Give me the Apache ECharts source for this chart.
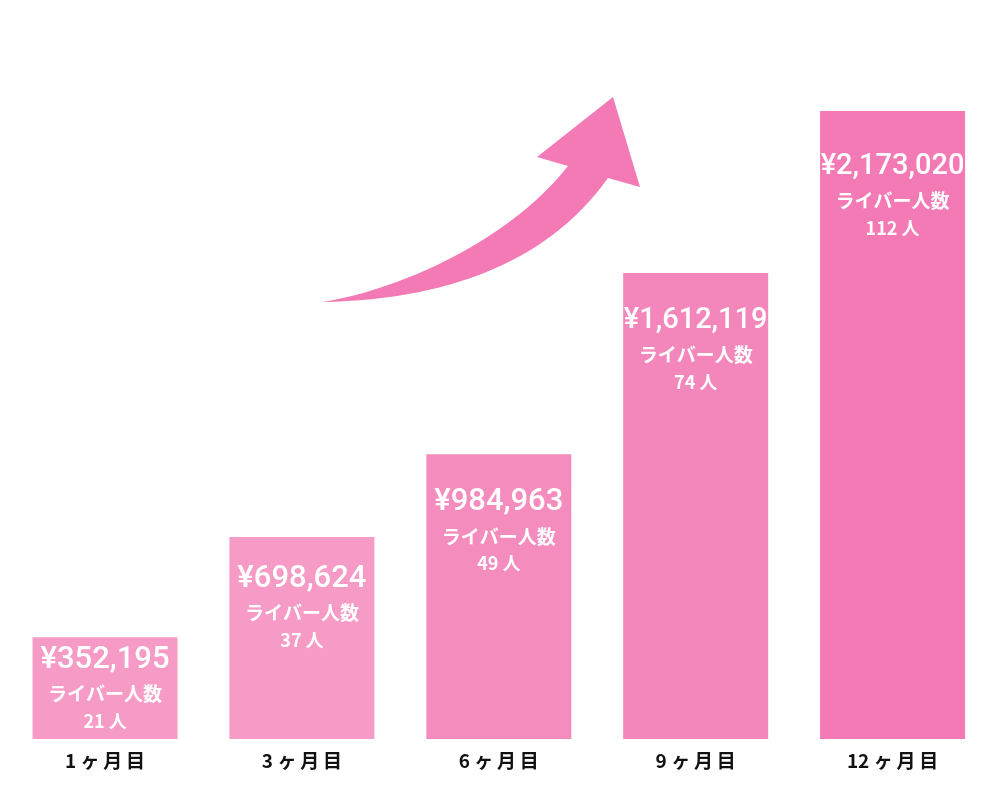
<!DOCTYPE html>
<html>
<head>
<meta charset="utf-8">
<script src="https://cdn.jsdelivr.net/npm/echarts@6/dist/echarts.min.js"></script>
<style>html,body{margin:0;padding:0;background:#fff}#c{width:1000px;height:800px}</style>
</head>
<body>
<div id="c"></div>
<script>
const categories = ['1 ヶ\u2009月\u2009目', '3 ヶ\u2009月\u2009目', '6 ヶ\u2009月\u2009目', '9 ヶ\u2009月\u2009目', '12 ヶ\u2009月\u2009目'];
const revenue = [352195, 698624, 984963, 1612119, 2173020];
const livers = [21, 37, 49, 74, 112];
const barColors = ['#F59BC6', '#F59BC5', '#F48DBD', '#F386BA', '#F37AB5'];
const labelDistance = [6, 25, 31, 31, 39];

// decorative arrow outline (cubic bezier control points)
function bez(p0, p1, p2, p3, n) {
  const out = [];
  for (let k = 0; k <= n; k++) {
    const t = k / n, u = 1 - t;
    out.push([
      u*u*u*p0[0] + 3*u*u*t*p1[0] + 3*u*t*t*p2[0] + t*t*t*p3[0],
      u*u*u*p0[1] + 3*u*u*t*p1[1] + 3*u*t*t*p2[1] + t*t*t*p3[1]
    ]);
  }
  return out;
}
const arrowPts = [].concat(
  bez([322, 302], [400, 290], [510, 240], [568, 166], 30),
  [[537, 157], [613, 97], [640, 187]],
  bez([608, 178], [550, 260], [450, 300], [322, 302], 30)
);

const chart = echarts.init(document.getElementById('c'));
const fmt = v => '¥' + v.toLocaleString('en-US');
chart.setOption({
  animation: false,
  grid: { left: 6.6, right: 9, top: 16.5, bottom: 61 },
  xAxis: {
    type: 'category',
    data: categories,
    axisLine: { show: false },
    axisTick: { show: false },
    axisLabel: { margin: 12, fontSize: 19, fontWeight: 'bold', color: '#111', fontFamily: 'Noto Sans CJK JP' }
  },
  yAxis: { type: 'value', min: 0, max: 2500000, show: false, splitLine: { show: false } },
  graphic: [{
    type: 'polygon',
    shape: { points: arrowPts },
    style: { fill: '#F37AB5' }
  }],
  series: [{
    type: 'bar',
    barWidth: 145,
    data: revenue.map((v, i) => ({
      value: v,
      itemStyle: { color: barColors[i] },
      label: { distance: labelDistance[i] }
    })),
    label: {
      show: true,
      position: 'insideTop',
      formatter: p => '{' + (p.dataIndex >= 3 ? 'a2' : 'a') + '|' + fmt(revenue[p.dataIndex]) + '}\n{b|ライバー人数}\n{c|' + livers[p.dataIndex] + ' 人}',
      rich: {
        a: { fontSize: 31, lineHeight: 34, color: '#fff', fontFamily: 'Roboto', fontWeight: 500, align: 'center' },
        a2: { fontSize: 29, lineHeight: 34, color: '#fff', fontFamily: 'Roboto', fontWeight: 500, align: 'center' },
        b: { fontSize: 19, lineHeight: 34, color: '#fff', fontFamily: 'Noto Sans CJK JP', fontWeight: 'bold', align: 'center' },
        c: { fontSize: 18, lineHeight: 20, color: '#fff', fontFamily: 'Noto Sans CJK JP', fontWeight: 'bold', align: 'center' }
      }
    }
  }]
});
</script>
</body>
</html>
